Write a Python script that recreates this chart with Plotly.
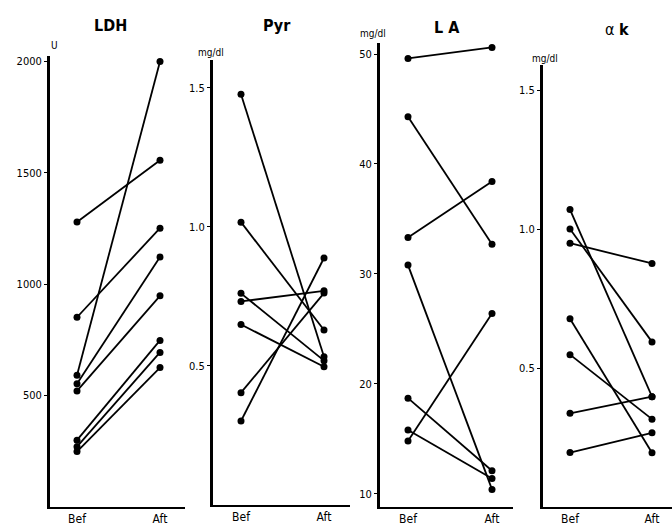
import plotly.graph_objects as go

W, H = 672, 529

cats = ["Bef", "Aft"]

# LDH (U)
ldh_bef = [1280, 852, 592, 553, 521, 300, 271, 249]
ldh_aft = [1557, 1252, 2000, 1122, 948, 748, 694, 626]
# Pyr (mg/dl)
pyr_bef = [1.477, 1.017, 0.761, 0.732, 0.649, 0.404, 0.302]
pyr_aft = [0.533, 0.629, 0.519, 0.770, 0.497, 0.762, 0.888]
# LA (mg/dl)
la_bef = [49.6, 44.3, 33.3, 30.8, 18.7, 15.8, 14.8]
la_aft = [50.6, 32.7, 38.4, 10.4, 12.1, 11.4, 26.4]
# alpha-k (mg/dl)
ak_bef = [1.070, 1.000, 0.949, 0.677, 0.548, 0.337, 0.196]
ak_aft = [0.397, 0.594, 0.876, 0.195, 0.316, 0.397, 0.267]

titles = ["<b>LDH</b>", "<b>Pyr</b>", "<b>L A</b>", "α <b>k</b>"]
units = ["U", "mg/dl", "mg/dl", "mg/dl"]
ticks = [
    ([500, 1000, 1500, 2000], ["500", "1000", "1500", "2000"]),
    ([0.5, 1.0, 1.5], ["0.5", "1.0", "1.5"]),
    ([10, 20, 30, 40, 50], ["10", "20", "30", "40", "50"]),
    ([0.5, 1.0, 1.5], ["0.5", "1.0", "1.5"]),
]
data = [(ldh_bef, ldh_aft), (pyr_bef, pyr_aft), (la_bef, la_aft), (ak_bef, ak_aft)]

# pixel layout per panel
panels = [
    dict(ax=50, bef=77, aft=160, right=185, yr=[0, 2025], top=56, bottom=507),
    dict(ax=213, bef=241, aft=324, right=350, yr=[0, 1.6], top=60, bottom=505),
    dict(ax=380, bef=408, aft=492, right=513, yr=[8.8, 51], top=43, bottom=507),
    dict(ax=543, bef=570, aft=652, right=672, yr=[0, 1.59], top=65, bottom=507),
]
title_pos = [(110, 25), (277, 25), (447, 28), (617, 30)]
unit_pos = [(54, 45), (211, 53), (373, 33), (545, 58)]

fig = go.Figure()
font_c = "DejaVu Sans Condensed, Liberation Sans Narrow, DejaVu Sans, sans-serif"

for i, (p, (bef, aft)) in enumerate(zip(panels, data)):
    n = i + 1
    xa = "x" if n == 1 else f"x{n}"
    ya = "y" if n == 1 else f"y{n}"
    for b, a in zip(bef, aft):
        fig.add_trace(go.Scatter(
            x=[0, 1], y=[b, a], mode="lines+markers",
            line=dict(color="black", width=1.8),
            marker=dict(color="black", size=7),
            xaxis=xa, yaxis=ya, showlegend=False, hoverinfo="skip"))
    scale = p["aft"] - p["bef"]
    x0 = (p["ax"] - p["bef"]) / scale
    x1 = (p["right"] - p["bef"]) / scale
    xkey = "xaxis" if n == 1 else f"xaxis{n}"
    ykey = "yaxis" if n == 1 else f"yaxis{n}"
    fig.update_layout(**{
        xkey: dict(domain=[p["ax"] / W, p["right"] / W], range=[x0, x1],
                   anchor=ya, tickvals=[0, 1], ticktext=cats,
                   showgrid=False, zeroline=False, showline=True,
                   linecolor="black", linewidth=2, ticks="",
                   tickfont=dict(family=font_c, size=12, color="black")),
        ykey: dict(domain=[1 - p["bottom"] / H, 1 - p["top"] / H], range=p["yr"],
                   anchor=xa, tickvals=ticks[i][0], ticktext=ticks[i][1],
                   showgrid=False, zeroline=False, showline=True,
                   linecolor="black", linewidth=3, ticks="outside", ticklen=3,
                   tickcolor="black",
                   tickfont=dict(family=font_c, size=11, color="black")),
    })
    fig.add_annotation(text=titles[i], x=title_pos[i][0] / W, y=1 - title_pos[i][1] / H,
                       xref="paper", yref="paper", showarrow=False,
                       xanchor="center", yanchor="middle",
                       font=dict(family=font_c, size=16, color="black"))
    fig.add_annotation(text=units[i], x=unit_pos[i][0] / W, y=1 - unit_pos[i][1] / H,
                       xref="paper", yref="paper", showarrow=False,
                       xanchor="center", yanchor="middle",
                       font=dict(family=font_c, size=10, color="black"))

fig.update_layout(width=W, height=H, margin=dict(l=0, r=0, t=0, b=0),
                  paper_bgcolor="white", plot_bgcolor="white")
fig.write_html("out.html")
